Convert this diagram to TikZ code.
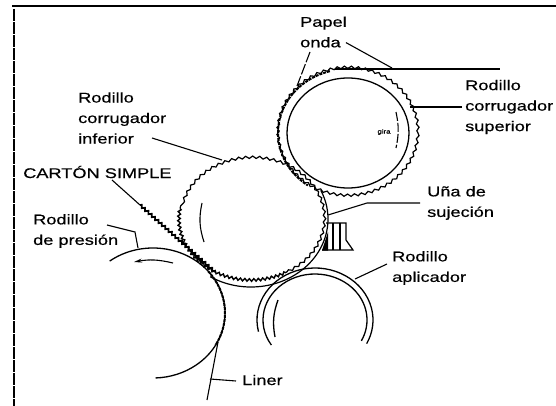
\documentclass[tikz,border=0pt]{standalone}
\usepackage{fontspec}
\setmainfont{Liberation Sans}[FakeStretch=1.3,FakeBold=0.5]
\usetikzlibrary{arrows.meta, calc, positioning, decorations.pathmorphing}
\tikzstyle{rotulo} = [inner sep=0pt, anchor=west, align=left, font=\fontsize{14}{20.5}\selectfont]
\tikzstyle{guia} = [line width=1.1pt]
\tikzstyle{arrow} = [line width=1.1pt,-{Stealth[length=8pt,width=4pt]}]
\begin{document}
\begin{tikzpicture}[x=1pt, y=1pt,
    rodillo/.style={line width=1.3pt},
    ondulado/.style={line width=1.2pt, decorate, decoration={snake, segment length=7pt, amplitude=1.2pt}},
    dentado/.style={line width=1.4pt, decorate, decoration={zigzag, segment length=4.5pt, amplitude=1.3pt}},
    papel/.style={line width=2pt, dash pattern=on 3pt off 1pt}]
    \useasboundingbox (0,0) rectangle (556,-406);
    % marco
    \draw[line width=1.6pt] (12,-6) -- (556,-6);
    \draw[line width=2.2pt, dash pattern=on 12pt off 1pt] (14,-9) -- (14,-406);
    % centros
    \coordinate (sup) at (348,-133);
    \coordinate (inf) at (251,-219);
    \coordinate (pres) at (153,-313);
    \coordinate (apl) at (315,-320);
    % rodillo corrugador superior
    \draw[rodillo] (sup) ellipse [x radius=61, y radius=55];
    \draw[ondulado] (sup) ellipse [x radius=70, y radius=64];
    \draw[papel] ($(sup)+(105:70 and 64)$) arc [start angle=105, end angle=235, x radius=70, y radius=64];
    \draw[line width=1.8pt] (335,-69) -- (500,-69);
    \draw[line width=1.1pt, dash pattern=on 9pt off 2pt] (396,-112) to[bend left=12] (396,-148);
    \node[font=\fontsize{6}{6}\selectfont, inner sep=0pt] (gira) at (384,-132) {gira};
    % rodillo corrugador inferior
    \draw[ondulado] ($(inf)+(-60:72 and 61)$) arc [start angle=-60, end angle=170, x radius=72, y radius=61];
    \draw[dentado] ($(inf)+(170:72 and 61)$) arc [start angle=170, end angle=300, x radius=72, y radius=61];
    \draw[line width=1.2pt] ($(inf)+(238:77 and 68)$) arc [start angle=238, end angle=385, x radius=77, y radius=68];
    \draw[line width=1.1pt] (202,-203) to[bend right=15] (204,-242);
    % rodillo de presion
    \draw[rodillo] ($(pres)+(127:72 and 65)$) arc [start angle=127, end angle=-88, x radius=72, y radius=65];
    \draw[papel] ($(pres)+(40:72 and 65)$) arc [start angle=40, end angle=-30, x radius=72, y radius=65];
    \draw[arrow] (173,-263) to[bend right=12] (134,-262);
    % rodillo aplicador
    \draw[rodillo] ($(apl)+(193:58 and 52)$) arc [start angle=193, end angle=-27, x radius=58, y radius=52];
    \draw[rodillo] ($(apl)+(213:52 and 46)$) arc [start angle=213, end angle=-27, x radius=52, y radius=46];
    \draw[rodillo] (278,-300) to[bend right=15] (275,-337);
    % carton simple
    \coordinate (webA) at (140,-205);
    \coordinate (webB) at (215,-272);
    \draw[dentado, line width=1.7pt] (webA) -- (webB);
    % liner
    \coordinate (linerA) at (218,-342);
    \coordinate (linerB) at (207,-400);
    \coordinate (linerC) at (210,-379);
    \draw[guia] (linerA) -- (linerB);
    % una
    \draw[line width=1.2pt] (326,-223) -- (346,-223) -- (346,-240) -- (353,-250) -- (322,-250);
    \foreach \x in {333,340}
        \draw[line width=1.1pt] (\x,-223) -- (\x,-250);
    \fill (322,-250.5) -- (328,-250.5) -- (328,-232) -- cycle;
    % textos
    \node[rotulo] (papelonda) at (300,-32) {Papel\\onda};
    \node[rotulo] (corrsup) at (465,-107) {Rodillo\\corrugador\\superior};
    \node[rotulo] (corrinf) at (78,-118) {Rodillo\\corrugador\\inferior};
    \node[rotulo] (carton) at (23,-172) {CARTÓN SIMPLE};
    \node[rotulo] (una) at (427,-203) {Uña de\\sujeción};
    \node[rotulo] (presion) at (33,-231) {Rodillo\\de presión};
    \node[rotulo] (aplicador) at (392,-268) {Rodillo\\aplicador};
    \node[rotulo] (liner) at (242,-380) {Liner};
    % guias
    \coordinate (pA) at (392,-68);
    \coordinate (pB) at (297,-86);
    \coordinate (pC) at (310,-52);
    \coordinate (sA) at (410,-107);
    \coordinate (iA) at (222,-160);
    \coordinate (iB) at (152,-138);
    \coordinate (cA) at (112,-180);
    \coordinate (uA) at (328,-215);
    \coordinate (uB) at (367,-203);
    \coordinate (rA) at (107,-225);
    \coordinate (rB) at (135,-232);
    \coordinate (rC) at (138,-248);
    \coordinate (aA) at (355,-279);
    \draw[guia] ([shift={(-1pt,5pt)}]papelonda.south east) -- (pA);
    \draw[guia, dash pattern=on 11pt off 2pt] (pC) -- (pB);
    \draw[guia] ([xshift=-3pt]corrsup.west) -- (sA);
    \draw[guia] (iB) -- (iA);
    \draw[guia] (cA) -- (webA);
    \draw[guia] ([xshift=-7pt]una.west) -- (uB) -- (uA);
    \draw[guia] (rA) -- (rB) -- (rC);
    \draw[guia] ([shift={(-5pt,4pt)}]aplicador.west) -- (aA);
    \draw[guia] ([shift={(-6pt,-1pt)}]liner.west) -- (linerC);
\end{tikzpicture}
\end{document}
